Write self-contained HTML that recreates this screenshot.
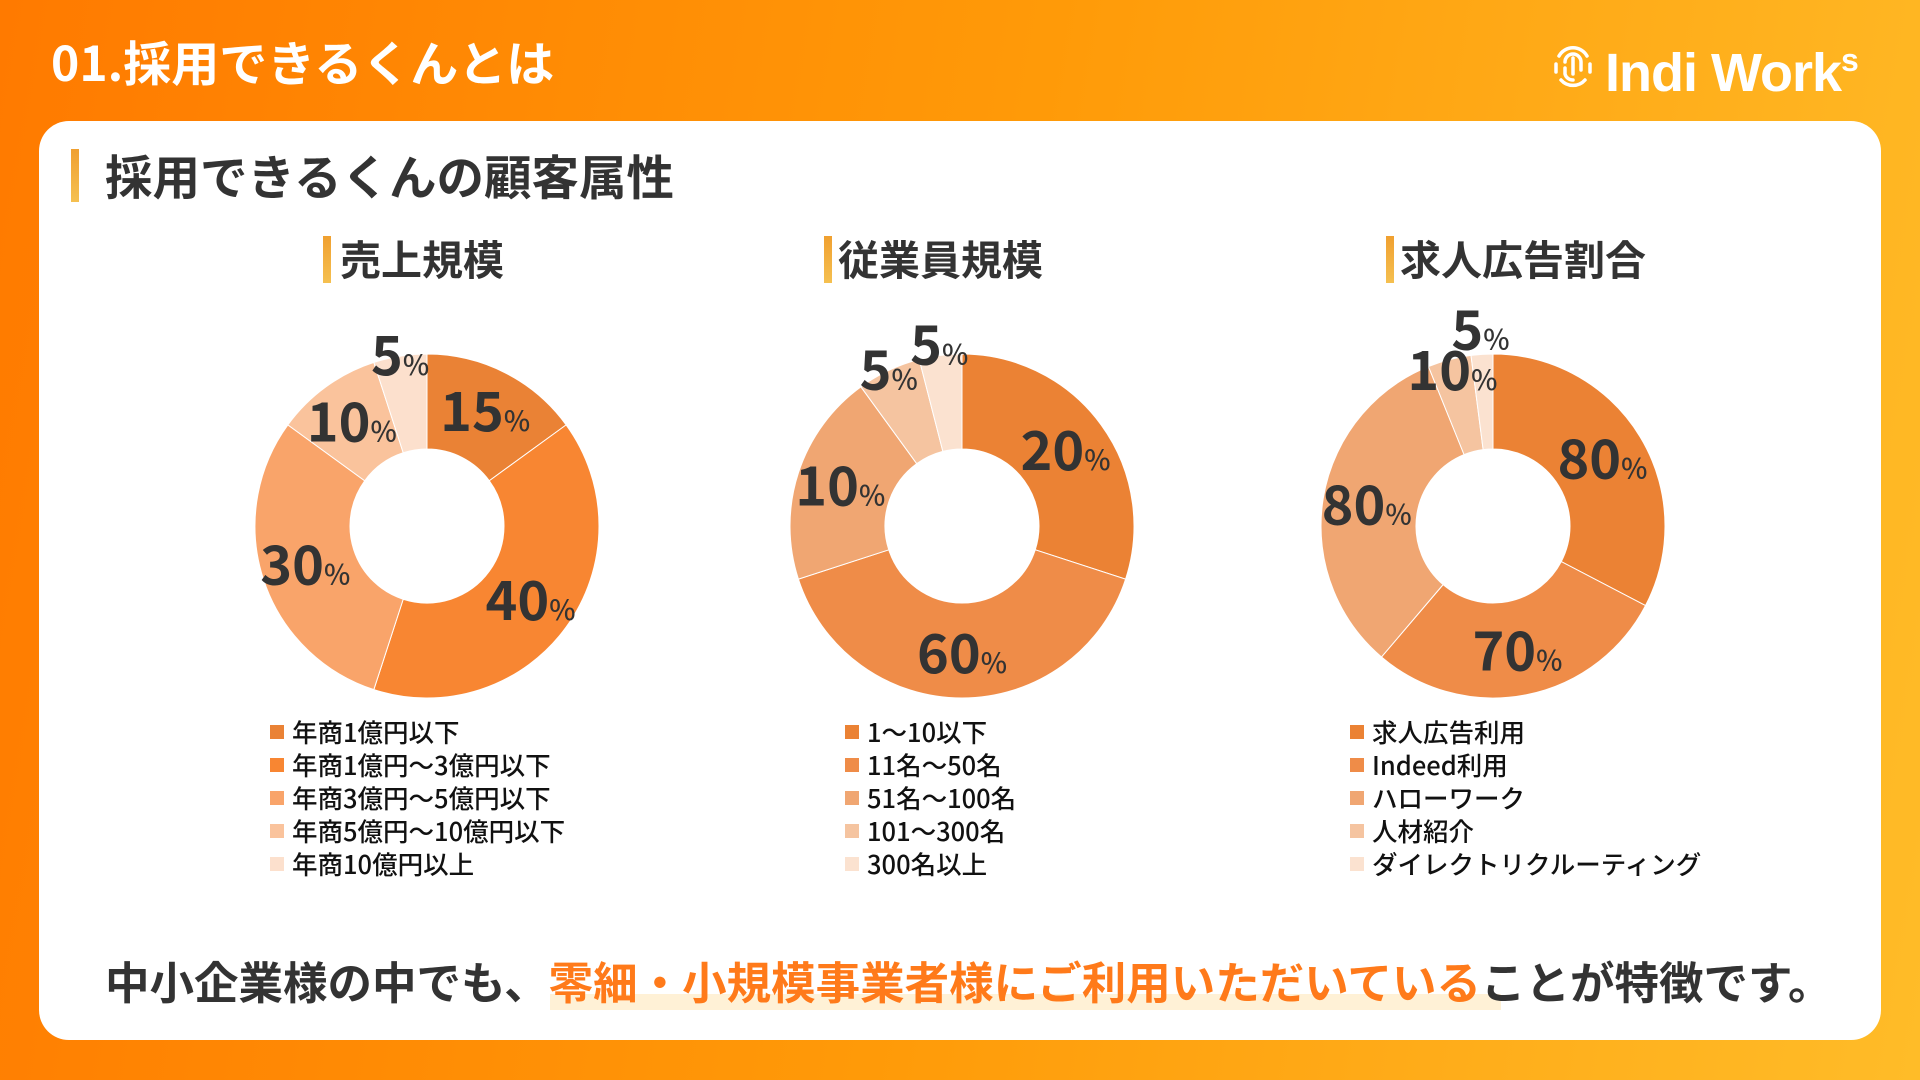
<!DOCTYPE html>
<html><head><meta charset="utf-8">
<style>
html,body{margin:0;padding:0}
body{width:1920px;height:1080px;overflow:hidden;position:relative;font-family:"Liberation Sans","Noto Sans CJK JP",sans-serif;background:linear-gradient(100deg,#FF7A00 0%,#FF9A08 50%,#FFBC28 100%)}
.t{position:absolute;font-family:"Noto Sans CJK JP","Liberation Sans",sans-serif;font-weight:700}
#card{position:absolute;left:39px;top:121px;width:1842px;height:919px;background:#fff;border-radius:30px}
.bar{position:absolute;width:8px;background:linear-gradient(#F0A030,#F5C050)}
.sub{position:absolute;font-family:"Noto Sans CJK JP",sans-serif;font-weight:700;font-size:41px;color:#333;line-height:48px}
.leg{position:absolute;font-family:"Noto Sans CJK JP",sans-serif;font-size:25.5px;font-weight:500;color:#111;line-height:33px}
.leg div{position:relative;padding-left:22px;height:33px;white-space:nowrap}
.leg span.sw{position:absolute;left:0;top:10px;width:14px;height:14px}
</style></head><body>
<div class="t" style="left:51px;top:28px;font-size:48px;color:#fff;line-height:64px">01.採用できるくんとは</div>
<div style="position:absolute;left:1553px;top:38px;height:50px;width:320px">
<svg width="40" height="48" viewBox="0 0 40 48" style="position:absolute;left:0;top:2px">
<g fill="none" stroke="#fff" stroke-width="3.5" stroke-linecap="round"><path d="M6 16 A16 16 0 0 1 34 16"/><path d="M3 24 L3 32 M37 24 L37 32"/><path d="M8 40 A16 16 0 0 0 32 40"/><path d="M12 22 A8 8 0 0 1 28 22 L28 30"/><path d="M12 28 L12 34 A8 8 0 0 0 20 40"/><path d="M20 18 L20 34"/></g></svg>
<span style="position:absolute;left:52px;top:-10px;font-family:'Liberation Sans',sans-serif;font-weight:700;font-size:54px;color:#fff;letter-spacing:-1px;line-height:64px">Indi Work<sup style="font-size:32px;vertical-align:20px">s</sup></span>
</div>
<div id="card"></div>
<div class="bar" style="left:71px;top:149px;height:53px"></div>
<div class="t" style="left:105px;top:146px;font-size:47.5px;color:#333;line-height:58px">採用できるくんの顧客属性</div>

<div class="bar" style="left:323px;top:236px;height:47px"></div>
<div class="sub" style="left:340px;top:233px">売上規模</div>
<div class="bar" style="left:824px;top:236px;height:47px"></div>
<div class="sub" style="left:838px;top:233px">従業員規模</div>
<div class="bar" style="left:1386px;top:236px;height:47px"></div>
<div class="sub" style="left:1400px;top:233px">求人広告割合</div>

<svg id="charts" width="1920" height="1080" style="position:absolute;left:0;top:0"><g id="slices"></g><g id="labels"></g></svg>

<div class="leg" id="leg1" style="left:270px;top:715px"></div>
<div class="leg" id="leg2" style="left:845px;top:715px"></div>
<div class="leg" id="leg3" style="left:1350px;top:715px"></div>

<div style="position:absolute;left:550px;top:994px;width:951px;height:16px;background:#FFF1D6"></div>
<div class="t" style="left:105px;top:949px;font-size:44.5px;color:#333;line-height:62px;white-space:nowrap">中小企業様の中でも、<span style="color:#FF7A1A">零細・小規模事業者様にご利用いただいている</span>ことが特徴です。</div>

<script>
const salesCategories=["年商1億円以下","年商1億円〜3億円以下","年商3億円〜5億円以下","年商5億円〜10億円以下","年商10億円以上"];
const salesValues=[15,40,30,10,5];
const employeeCategories=["1〜10以下","11名〜50名","51名〜100名","101〜300名","300名以上"];
const employeeValues=[20,60,10,5,5];
const employeeSliceShares=[30,40,20,6,4];
const adCategories=["求人広告利用","Indeed利用","ハローワーク","人材紹介","ダイレクトリクルーティング"];
const adValues=[80,70,80,10,5];
const salesColors=["#EA8235","#F88632","#F9A46A","#FAC39C","#FCE0CD"];
const employeeColors=["#EB8234","#EF8C48","#F0A672","#F5C4A0","#FBE2D0"];
const adColors=["#EB8234","#EF8C48","#F0A672","#F5C4A0","#FBE2D0"];
const NS="http://www.w3.org/2000/svg";
const gS=document.getElementById('slices'), gL=document.getElementById('labels');
function pt(cx,cy,r,a){return [cx+r*Math.sin(a),cy-r*Math.cos(a)];}
function donut(cx,cy,values,sizes,colors,cats,legId,key){
  const R=172,r0=77,total=sizes.reduce((a,b)=>a+b,0);
  let a0=0;
  sizes.forEach((s,i)=>{
    const v=values[i];
    const a1=a0+s/total*2*Math.PI;
    const large=(a1-a0)>Math.PI?1:0;
    const p1=pt(cx,cy,R,a0),p2=pt(cx,cy,R,a1),p3=pt(cx,cy,r0,a1),p4=pt(cx,cy,r0,a0);
    const path=document.createElementNS(NS,'path');
    path.setAttribute('d',`M${p1[0]} ${p1[1]} A${R} ${R} 0 ${large} 1 ${p2[0]} ${p2[1]} L${p3[0]} ${p3[1]} A${r0} ${r0} 0 ${large} 0 ${p4[0]} ${p4[1]}Z`);
    path.setAttribute('fill',colors[i]);
    path.setAttribute('stroke','#fff');
    path.setAttribute('stroke-width','1');
    
    
    gS.appendChild(path);
    const share=s/total, am=(a0+a1)/2;
    const lr=share<0.025?196:(share<0.0405?182:(share<0.045?160:(share<0.07?172:128)));
    const lp=pt(cx,cy,lr,am);
    const t=document.createElementNS(NS,'text');
    t.setAttribute('x',lp[0]);t.setAttribute('y',lp[1]+19);
    t.setAttribute('text-anchor','middle');
    t.setAttribute('font-family','"Noto Sans CJK JP","Liberation Sans",sans-serif');
    t.setAttribute('font-weight','700');t.setAttribute('fill','#333');t.setAttribute('font-size','54');
    
    
    t.innerHTML=v+'<tspan font-size="28" font-weight="500">%</tspan>';
    gL.appendChild(t);
    a0=a1;
  });
  const leg=document.getElementById(legId);
  cats.forEach((c,i)=>{
    const d=document.createElement('div');
    
    
    d.innerHTML='<span class="sw" style="background:'+colors[i]+'"></span>'+c;
    leg.appendChild(d);
  });
}
donut(427,526,salesValues,salesValues,salesColors,salesCategories,'leg1','sales');
donut(962,526,employeeValues,employeeSliceShares,employeeColors,employeeCategories,'leg2','employee');
donut(1493,526,adValues,adValues,adColors,adCategories,'leg3','ad');
</script>
</body></html>
